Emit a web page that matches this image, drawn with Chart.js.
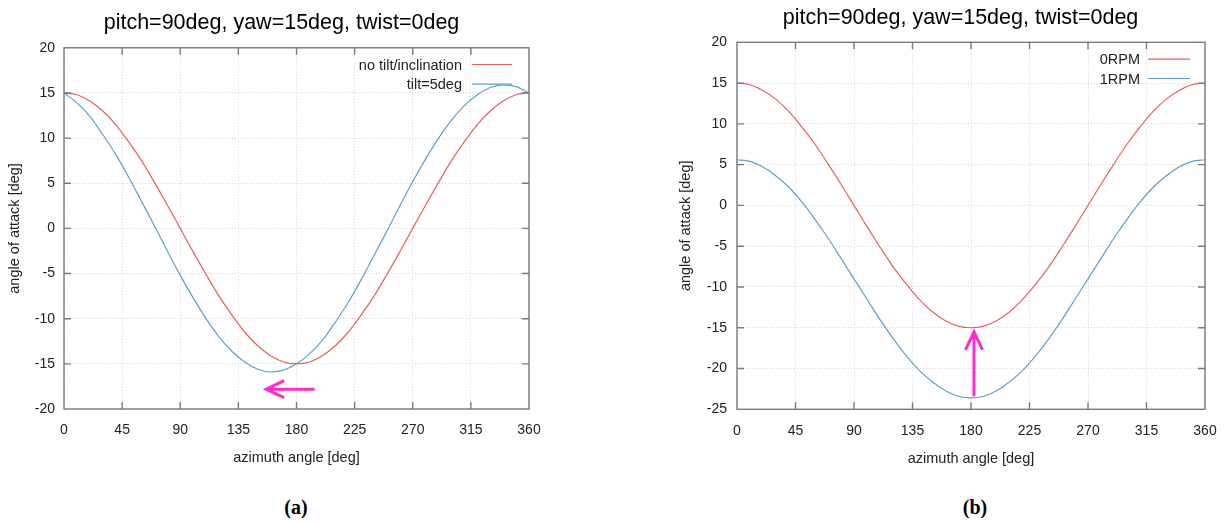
<!DOCTYPE html>
<html>
<head>
<meta charset="utf-8">
<script src="https://cdn.jsdelivr.net/npm/chart.js@4.4.1/dist/chart.umd.min.js"></script>
<style>
  html, body { margin: 0; padding: 0; background: #fff; overflow: hidden; width: 1225px; height: 522px; }
  .panel { position: absolute; top: 0; }
  .cap { position: absolute; top: 496px; line-height: 22px; font: bold 20px "Liberation Serif", "Times New Roman", serif; transform: translateX(-50%); color: #000; }
</style>
</head>
<body>
<div class="panel" style="left:0"><canvas id="chartA" width="563" height="480"></canvas></div>
<div class="panel" style="left:672px"><canvas id="chartB" width="577" height="480"></canvas></div>
<div class="cap" style="left:296px">(a)</div>
<div class="cap" style="left:975px">(b)</div>

<script>
// azimuth angle [deg]
var angles = [0, 10, 20, 30, 40, 50, 60, 70, 80, 90, 100, 110, 120, 130, 140, 150, 160, 170, 180,
    190, 200, 210, 220, 230, 240, 250, 260, 270, 280, 290, 300, 310, 320, 330, 340, 350, 360];

// (a) angle of attack [deg]
var noTilt = [15.0, 14.8, 14.1, 13.0, 11.5, 9.6, 7.5, 5.1, 2.6, 0.0, -2.6, -5.1, -7.5, -9.6, -11.5, -13.0, -14.1, -14.8, -15.0,
    -14.8, -14.1, -13.0, -11.5, -9.6, -7.5, -5.1, -2.6, 0.0, 2.6, 5.1, 7.5, 9.6, 11.5, 13.0, 14.1, 14.8, 15.0];
var tilt5 = [15.0, 13.9, 12.4, 10.4, 8.2, 5.7, 3.0, 0.3, -2.5, -5.2, -7.7, -10.0, -12.0, -13.6, -14.8, -15.6, -15.9, -15.7, -15.0,
    -13.9, -12.4, -10.4, -8.2, -5.7, -3.0, -0.3, 2.5, 5.2, 7.7, 10.0, 12.0, 13.6, 14.8, 15.6, 15.9, 15.7, 15.0];

// (b) angle of attack [deg]
var rpm0 = [15.0, 14.8, 14.1, 13.0, 11.5, 9.6, 7.5, 5.1, 2.6, 0.0, -2.6, -5.1, -7.5, -9.6, -11.5, -13.0, -14.1, -14.8, -15.0,
    -14.8, -14.1, -13.0, -11.5, -9.6, -7.5, -5.1, -2.6, 0.0, 2.6, 5.1, 7.5, 9.6, 11.5, 13.0, 14.1, 14.8, 15.0];
var rpm1 = [5.6, 5.4, 4.7, 3.6, 2.2, 0.4, -1.7, -4.0, -6.5, -9.0, -11.5, -14.0, -16.3, -18.4, -20.2, -21.6, -22.7, -23.4, -23.6,
    -23.4, -22.7, -21.6, -20.2, -18.4, -16.3, -14.0, -11.5, -9.0, -6.5, -4.0, -1.7, 0.4, 2.2, 3.6, 4.7, 5.4, 5.6];

var labelsA = ['no tilt/inclination', 'tilt=5deg'];
var labelsB = ['0RPM', '1RPM'];
var titleText = 'pitch=90deg, yaw=15deg, twist=0deg';
var xTitle = 'azimuth angle [deg]';
var yTitle = 'angle of attack [deg]';

// magenta arrows, [from, to] in data units
var arrowA = [[194, -17.8], [156.5, -17.8]];
var arrowB = [[182.3, -23.4], [182.3, -15.5]];

var RED = 'rgb(228, 98, 92)';
var BLUE = 'rgb(96, 160, 200)';
var FONT = '"Liberation Sans", Arial, sans-serif';

function pts(ys) {
    return angles.map(function (a, i) { return { x: a, y: ys[i] }; });
}

// frame with inward ticks on all four sides (gnuplot look)
var frame = {
    id: 'frame',
    afterDatasetsDraw: function (chart) {
        var ctx = chart.ctx, a = chart.chartArea;
        var xs = chart.scales.x, ys = chart.scales.y;
        ctx.save();
        ctx.strokeStyle = '#7a7a7a';
        ctx.lineWidth = 1.4;
        ctx.beginPath();
        xs.ticks.forEach(function (t) {
            var p = xs.getPixelForValue(t.value);
            if (p <= a.left + 1 || p >= a.right - 1) return;
            ctx.moveTo(p, a.bottom); ctx.lineTo(p, a.bottom - 7);
            ctx.moveTo(p, a.top); ctx.lineTo(p, a.top + 7);
        });
        ys.ticks.forEach(function (t) {
            var p = ys.getPixelForValue(t.value);
            if (p <= a.top + 1 || p >= a.bottom - 1) return;
            ctx.moveTo(a.left, p); ctx.lineTo(a.left + 7, p);
            ctx.moveTo(a.right, p); ctx.lineTo(a.right - 7, p);
        });
        ctx.stroke();
        ctx.strokeRect(a.left, a.top, a.right - a.left, a.bottom - a.top);
        ctx.restore();
    }
};

// key at top right: text then sample line
var keyBox = {
    id: 'keyBox',
    afterDraw: function (chart, args, o) {
        var ctx = chart.ctx, a = chart.chartArea;
        ctx.save();
        ctx.font = '14.5px ' + FONT;
        ctx.textAlign = 'right';
        ctx.textBaseline = 'middle';
        chart.data.datasets.forEach(function (ds, i) {
            var y = a.top + o.top + i * o.gap;
            var x1 = a.right - o.right, x0 = x1 - o.len;
            ctx.fillStyle = '#222';
            ctx.fillText(ds.label, x0 - o.textGap, y + 1);
            ctx.strokeStyle = ds.borderColor;
            ctx.lineWidth = 1.2;
            ctx.beginPath(); ctx.moveTo(x0, y); ctx.lineTo(x1, y); ctx.stroke();
        });
        ctx.restore();
    }
};

var arrow = {
    id: 'arrow',
    afterDraw: function (chart, args, o) {
        var ctx = chart.ctx, xs = chart.scales.x, ys = chart.scales.y;
        var x0 = xs.getPixelForValue(o.path[0][0]), y0 = ys.getPixelForValue(o.path[0][1]);
        var x1 = xs.getPixelForValue(o.path[1][0]), y1 = ys.getPixelForValue(o.path[1][1]);
        var ang = Math.atan2(y1 - y0, x1 - x0), L = 18, W = 8.5;
        var bx = x1 - L * Math.cos(ang), by = y1 - L * Math.sin(ang);
        ctx.save();
        ctx.strokeStyle = 'rgb(255, 45, 205)';
        ctx.lineWidth = 3;
        ctx.lineCap = 'butt';
        ctx.beginPath();
        ctx.moveTo(x0, y0); ctx.lineTo(x1, y1);
        ctx.moveTo(bx - W * Math.sin(ang), by + W * Math.cos(ang)); ctx.lineTo(x1, y1);
        ctx.lineTo(bx + W * Math.sin(ang), by - W * Math.cos(ang));
        ctx.stroke();
        ctx.restore();
    }
};

function makeChart(id, labels, series, yMin, lay) {
    var colors = [RED, BLUE];
    var config = {
        type: 'line',
        data: {
            datasets: series.map(function (s, i) {
                return {
                    label: labels[i],
                    data: pts(s),
                    borderColor: colors[i],
                    borderWidth: 1.2,
                    pointRadius: 0,
                    cubicInterpolationMode: 'monotone',
                    fill: false
                };
            })
        },
        options: {
            responsive: false,
            animation: false,
            layout: { padding: 0 },
            plugins: {
                legend: { display: false },
                tooltip: { enabled: false },
                title: {
                    display: true,
                    text: titleText,
                    color: '#000',
                    font: { family: FONT, size: 21.5, weight: 'normal' },
                    padding: { top: lay.titleTop, bottom: lay.titleBottom }
                },
                keyBox: lay.key,
                arrow: { path: lay.arrow }
            },
            scales: {
                x: {
                    type: 'linear',
                    min: 0, max: 360,
                    afterFit: function (s) { s.height = lay.xHeight; },
                    ticks: { stepSize: 45, padding: 13, color: '#222', font: { family: FONT, size: 14 } },
                    grid: { color: '#d4d4d4', lineWidth: 1, drawTicks: false },
                    border: { display: false, dash: [1, 2] },
                    title: { display: true, text: xTitle, color: '#222', font: { family: FONT, size: 14.5 }, padding: { top: 0, bottom: lay.xTitleBottom } }
                },
                y: {
                    min: yMin, max: 20,
                    afterFit: function (s) { s.width = lay.yWidth; },
                    ticks: { stepSize: 5, padding: lay.yPad, color: '#222', font: { family: FONT, size: 14 } },
                    grid: { color: '#d4d4d4', lineWidth: 1, drawTicks: false },
                    border: { display: false, dash: [1, 2] },
                    title: { display: true, text: yTitle, color: '#222', font: { family: FONT, size: 14.5 }, padding: { top: lay.yTitleTop, bottom: 0 } }
                },
                // empty right margin so the title centres on the whole panel
                yR: {
                    position: 'right',
                    min: yMin, max: 20,
                    afterFit: function (s) { s.width = lay.rightWidth; },
                    ticks: { display: false },
                    grid: { display: false },
                    border: { display: false }
                }
            }
        },
        plugins: [frame, keyBox, arrow]
    };
    return new Chart(document.getElementById(id), config);
}

makeChart('chartA', labelsA, [noTilt, tilt5], -20, {
    rightWidth: 34, titleTop: 10.2, titleBottom: 11.8, xHeight: 71, xTitleBottom: 13.3,
    yWidth: 64, yPad: 9, yTitleTop: 6.3,
    key: { top: 16.7, gap: 19.6, right: 17, len: 40, textGap: 10 },
    arrow: arrowA
});

makeChart('chartB', labelsB, [rpm0, rpm1], -25, {
    rightWidth: 44, titleTop: 4.9, titleBottom: 11.6, xHeight: 70.7, xTitleBottom: 12,
    yWidth: 65, yPad: 10, yTitleTop: 5.3,
    key: { top: 16.8, gap: 19.4, right: 15, len: 42, textGap: 8 },
    arrow: arrowB
});
</script>
</body>
</html>
